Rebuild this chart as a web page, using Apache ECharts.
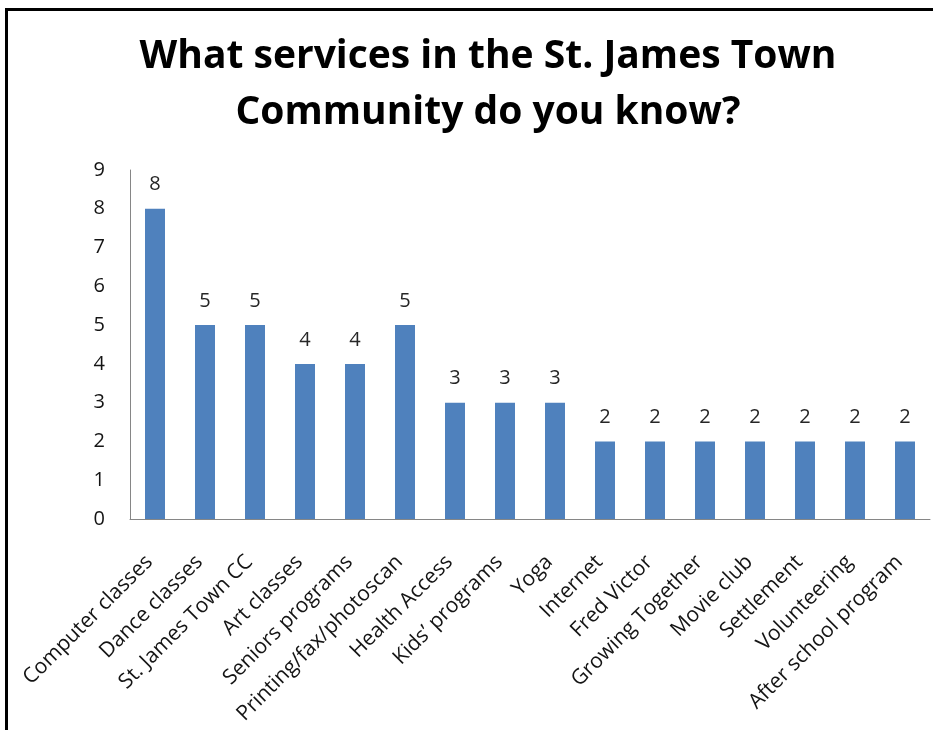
<!DOCTYPE html>
<html>
<head>
<meta charset="utf-8">
<script src="https://cdn.jsdelivr.net/npm/echarts@6/dist/echarts.min.js"></script>
<style>
  html, body { margin: 0; padding: 0; background: #fff; }
  #chart { width: 933px; height: 730px; }
</style>
</head>
<body>
<div id="chart"></div>
<script>
// Services named by respondents and how many mentioned each
const categories = [
  'Computer classes', 'Dance classes', 'St. James Town CC', 'Art classes',
  'Seniors programs', 'Printing/fax/photoscan', 'Health Access', 'Kids\u2019 programs',
  'Yoga', 'Internet', 'Fred Victor', 'Growing Together', 'Movie club',
  'Settlement', 'Volunteering', 'After school program'
];
const counts = [8, 5, 5, 4, 4, 5, 3, 3, 3, 2, 2, 2, 2, 2, 2, 2];
const titleLines = ['What services in the St. James Town', 'Community do you know?'];

const FONT = '"Open Sans", "DejaVu Sans", sans-serif';
const chart = echarts.init(document.getElementById('chart'));

chart.setOption({
  animation: false,
  backgroundColor: '#ffffff',
  title: {
    text: titleLines.join('\n'),
    left: 483,
    textAlign: 'center',
    top: 24,
    textStyle: {
      fontFamily: FONT,
      fontWeight: 'bold',
      fontSize: 39,
      lineHeight: 56,
      color: '#000000'
    }
  },
  graphic: [{
    type: 'rect',
    shape: { x: 6.5, y: 9.5, width: 1000, height: 1000 },
    style: { fill: 'none', stroke: '#000000', lineWidth: 3 },
    silent: true
  }],
  grid: { left: 130, right: 3, top: 170, bottom: 211, containLabel: false },
  xAxis: {
    type: 'category',
    data: categories,
    axisLine: { show: true, lineStyle: { color: '#868686', width: 1 } },
    axisTick: { show: false },
    axisLabel: {
      interval: 0,
      rotate: 45,
      margin: 34,
      padding: [0, 8, 0, 0],
      fontFamily: FONT,
      fontSize: 21,
      color: '#141414'
    }
  },
  yAxis: {
    type: 'value',
    min: 0,
    max: 9,
    interval: 1,
    splitLine: { show: false },
    axisLine: { show: true, lineStyle: { color: '#868686', width: 1 } },
    axisTick: { show: false },
    axisLabel: {
      margin: 25,
      fontFamily: FONT,
      fontSize: 20,
      color: '#141414'
    }
  },
  series: [{
    type: 'bar',
    data: counts,
    barWidth: 20,
    itemStyle: { color: '#4F81BD' },
    label: {
      show: true,
      position: 'top',
      distance: 14,
      fontFamily: FONT,
      fontSize: 20,
      color: '#262626'
    }
  }]
});
</script>
</body>
</html>
